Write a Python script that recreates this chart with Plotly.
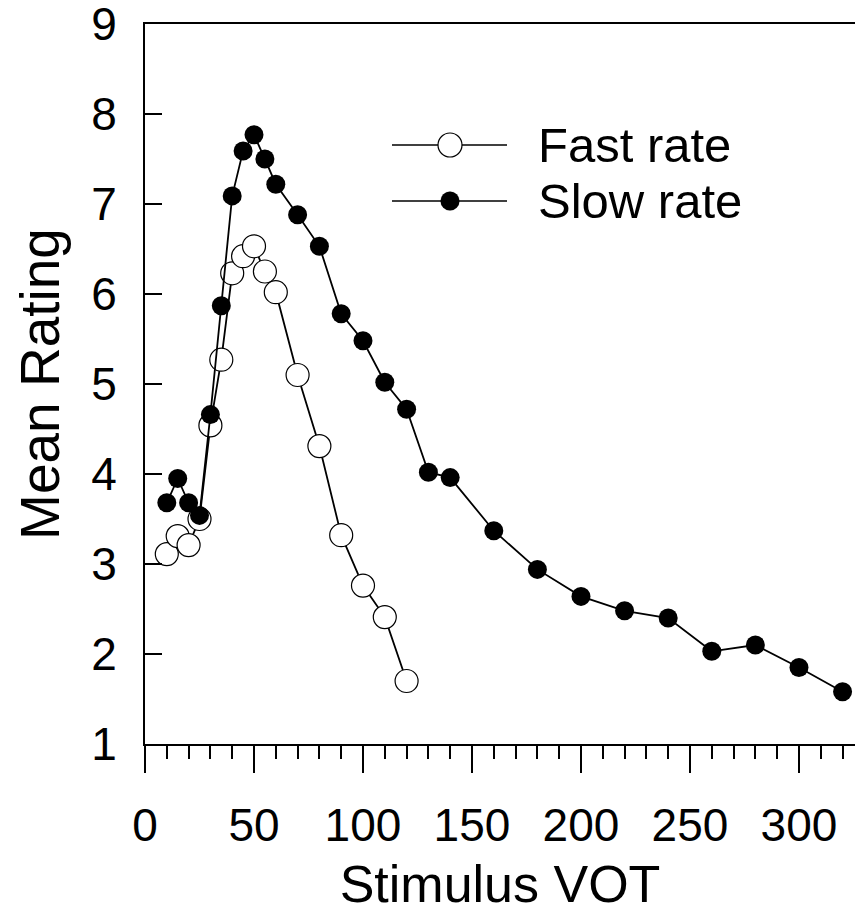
import plotly.graph_objects as go

# ---- data ----
fast_vot = [10, 15, 20, 25, 30, 35, 40, 45, 50, 55, 60, 70, 80, 90, 100, 110, 120]
fast_rating = [3.11, 3.31, 3.21, 3.50, 4.54, 5.27, 6.23, 6.42, 6.53, 6.25, 6.02,
               5.10, 4.31, 3.32, 2.76, 2.41, 1.70]

slow_vot = [10, 15, 20, 25, 30, 35, 40, 45, 50, 55, 60, 70, 80, 90, 100, 110, 120,
            130, 140, 160, 180, 200, 220, 240, 260, 280, 300, 320]
slow_rating = [3.68, 3.95, 3.68, 3.54, 4.66, 5.87, 7.09, 7.59, 7.77, 7.50, 7.22,
               6.88, 6.53, 5.78, 5.48, 5.02, 4.72, 4.02, 3.96, 3.37, 2.94, 2.64,
               2.48, 2.40, 2.03, 2.10, 1.85, 1.58]

x_ticks = [0, 50, 100, 150, 200, 250, 300]
y_ticks = [1, 2, 3, 4, 5, 6, 7, 8, 9]
series_names = ["Fast rate", "Slow rate"]
x_title = "Stimulus VOT"
y_title = "Mean Rating"

FONT = "Arial, Liberation Sans, sans-serif"
W, H = 855, 913
ML, MR, MT, MB = 145, 0, 24, 169

fig = go.Figure()
fig.add_trace(go.Scatter(
    x=fast_vot, y=fast_rating, mode="lines+markers", name=series_names[0],
    line=dict(color="black", width=1.8),
    marker=dict(symbol="circle", size=23, color="white",
                line=dict(color="black", width=1.2)),
    showlegend=False, cliponaxis=False))
fig.add_trace(go.Scatter(
    x=slow_vot, y=slow_rating, mode="lines+markers", name=series_names[1],
    line=dict(color="black", width=1.8),
    marker=dict(symbol="circle", size=19, color="black",
                line=dict(color="black", width=0)),
    showlegend=False, cliponaxis=False))

# ---- manual legend (long sample lines like the original) ----
pw = W - ML - MR
ph = H - MT - MB
def px2paper(px, py):
    return (px - ML) / pw, (H - MB - py) / ph

legend_rows = [(145, "white", 24, 1.2), (201, "black", 19, 0)]
for (py, fill, d, lw), name in zip(legend_rows, series_names):
    x0, y0 = px2paper(392, py)
    x1, _ = px2paper(507, py)
    xc, _ = px2paper(450, py)
    fig.add_shape(type="line", xref="paper", yref="paper", x0=x0, x1=x1, y0=y0, y1=y0,
                  line=dict(color="black", width=1.5))
    fig.add_shape(type="circle", xref="paper", yref="paper",
                  xsizemode="pixel", ysizemode="pixel", xanchor=xc, yanchor=y0,
                  x0=-d / 2, x1=d / 2, y0=-d / 2, y1=d / 2,
                  fillcolor=fill, line=dict(color="black", width=lw if lw else 0.1))
    tx, _ = px2paper(536, py)
    fig.add_annotation(xref="paper", yref="paper", x=tx, y=y0, text=name,
                       showarrow=False, xanchor="left", yanchor="middle",
                       font=dict(family=FONT, size=49, color="black"))

fig.update_layout(
    width=W, height=H,
    margin=dict(l=ML, r=MR, t=MT, b=MB, pad=0, autoexpand=False),
    paper_bgcolor="white", plot_bgcolor="white",
    font=dict(family=FONT, color="black"),
)
fig.update_xaxes(
    range=[0, 325.7], tickvals=x_ticks, ticktext=[str(v) for v in x_ticks],
    automargin=False,
    showgrid=False, zeroline=False,
    showline=True, linecolor="black", linewidth=1.8, mirror=True,
    ticks="outside", ticklen=27, tickwidth=1.5, tickcolor="black",
    tickfont=dict(family=FONT, size=46, color="black"),
    ticklabelstandoff=13, ticklabeloverflow="allow",
    minor=dict(dtick=10, tick0=0, ticks="outside", ticklen=13, tickwidth=1.5,
               tickcolor="black", showgrid=False),
    title=dict(text=x_title, font=dict(family=FONT, size=52, color="black"), standoff=19),
)
fig.update_yaxes(
    range=[0.9999, 9.0001], tickvals=y_ticks, ticktext=[str(v) for v in y_ticks],
    automargin=False,
    showgrid=False, zeroline=False,
    showline=True, linecolor="black", linewidth=1.8, mirror=False,
    ticks="inside", ticklen=17, tickwidth=1.5, tickcolor="black",
    tickfont=dict(family=FONT, size=46, color="black"),
    ticklabelstandoff=17, ticklabeloverflow="allow",
    title=dict(text=y_title, font=dict(family=FONT, size=55, color="black"), standoff=14),
)

# remove the default page margin so the 855x913 figure fills the window exactly
fig.write_html(
    "out.html",
    config={"displayModeBar": False},
    post_script="document.body.style.margin='0';document.body.style.overflow='hidden';",
)
